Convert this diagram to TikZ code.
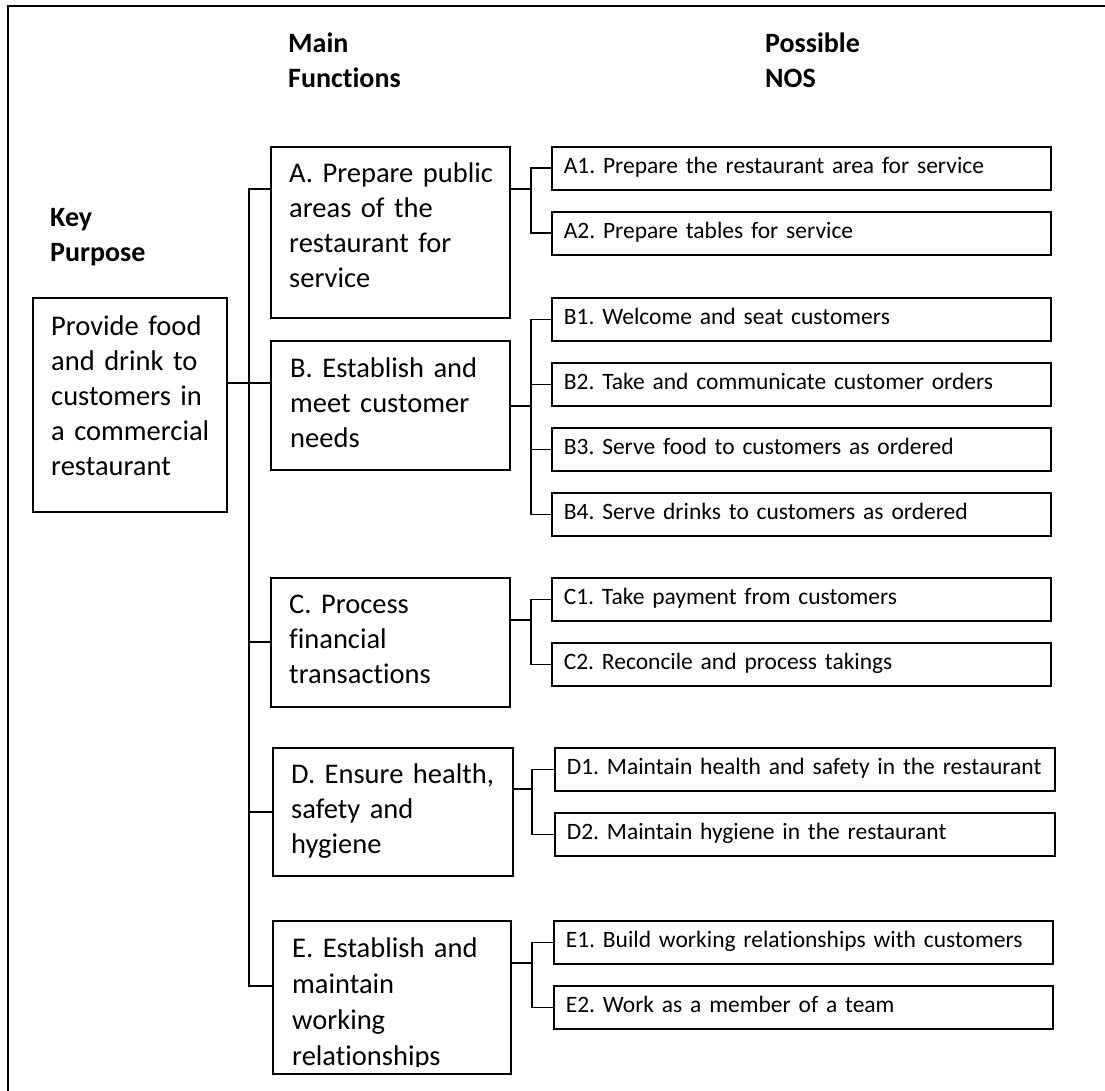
\documentclass[tikz,border=0pt]{standalone}
\usepackage{fontspec}
\setmainfont{Carlito}[Ligatures=NoCommon]
\frenchspacing
\begin{document}
\begin{tikzpicture}[x=1pt,y=-1pt,
  box/.style={draw=black, line width=1.6pt, rectangle, inner sep=0pt, anchor=north west},
  conn/.style={draw=black, line width=1.6pt},
  head/.style={font=\fontsize{28}{35}\selectfont\bfseries, anchor=base west, text width=160pt, align=left, inner sep=0pt},
  mtext/.style={font=\fontsize{28.5}{35}\selectfont, anchor=base west, text width=225pt, align=left, inner sep=0pt},
  nos/.style={draw=black, line width=1.6pt, rectangle, anchor=north west, minimum height=43pt,
    inner xsep=12pt, inner ysep=0pt, text height=17pt, text depth=7pt,
    font=\fontsize{23.5}{28}\selectfont, align=left}
]
\useasboundingbox (0,0) rectangle (1105,1091);

% outer frame (only top and left edges fall inside the page)
\draw[line width=1.6pt] (8,1110) -- (8,6) -- (1120,6);

% column headings
\node[head] (hKey)  at (50,227)  {Key\\Purpose};
\node[head] (hMain) at (288,53)  {Main\\Functions};
\node[head] (hNos)  at (765,53)  {Possible\\NOS};

% key purpose
\node[box, minimum width=194pt, minimum height=214pt] (key) at (32,297) {};
\node[mtext, text width=170pt] (keyt) at (51,335)
  {Provide food\\and drink to\\customers in\\a commercial\\restaurant};

% main functions
\node[box, minimum width=239pt, minimum height=171pt] (A) at (270,146) {};
\node[mtext] (At) at (289,183) {A. Prepare public\\areas of the\\restaurant for\\service};

\node[box, minimum width=239pt, minimum height=129pt] (B) at (270,340) {};
\node[mtext] (Bt) at (290,377) {B. Establish and\\meet customer\\needs};

\node[box, minimum width=239pt, minimum height=129pt] (C) at (270,577) {};
\node[mtext] (Ct) at (289,613) {C. Process\\financial\\transactions};

\node[box, minimum width=240pt, minimum height=128pt] (D) at (272,747) {};
\node[mtext] (Dt) at (291,783) {D. Ensure health,\\safety and\\hygiene};

\node[box, minimum width=238pt, minimum height=153pt] (E) at (272,920) {};
\begin{scope}
  \clip (273,921) rectangle (509,1066);
  \node[mtext, font=\fontsize{28.5}{36}\selectfont] (Et) at (292,957)
    {E. Establish and\\maintain\\working\\relationships};
\end{scope}

% possible NOS
\node[nos, text width=475pt] (A1) at (551,146) {\mbox{A1. Prepare the restaurant area for service}};
\node[nos, text width=475pt] (A2) at (551,211) {\mbox{A2. Prepare tables for service}};
\node[nos, text width=475pt] (B1) at (551,297) {\mbox{B1. Welcome and seat customers}};
\node[nos, text width=475pt] (B2) at (551,362) {\mbox{B2. Take and communicate customer orders}};
\node[nos, text width=475pt] (B3) at (551,427) {\mbox{B3. Serve food to customers as ordered}};
\node[nos, text width=475pt] (B4) at (551,492) {\mbox{B4. Serve drinks to customers as ordered}};
\node[nos, text width=475pt] (C1) at (551,577) {\mbox{C1. Take payment from customers}};
\node[nos, text width=475pt] (C2) at (551,642) {\mbox{C2. Reconcile and process takings}};
\node[nos, text width=476pt] (D1) at (554,747) {\mbox{D1. Maintain health and safety in the restaurant}};
\node[nos, text width=476pt] (D2) at (554,812) {\mbox{D2. Maintain hygiene in the restaurant}};
\node[nos, text width=475pt] (E1) at (553,920) {\mbox{E1. Build working relationships with customers}};
\node[nos, text width=475pt] (E2) at (553,985) {\mbox{E2. Work as a member of a team}};

% trunk from the key purpose to the main functions
\coordinate (jA) at (249,189);
\coordinate (jB) at (249,383);
\coordinate (jC) at (249,642);
\coordinate (jD) at (249,812);
\coordinate (jE) at (249,986);
\draw[conn] (A.west |- jA) -- (jA) -- (jE) -- (E.west |- jE);
\draw[conn] (key.east |- jB) -- (B.west |- jB);
\draw[conn] (jC) -- (C.west |- jC);
\draw[conn] (jD) -- (D.west |- jD);

% branches from each main function to its NOS
\coordinate (bA) at (531,189);
\draw[conn] (A.east |- bA) -- (bA);
\draw[conn] (A1.west) -- (A1.west -| bA) -- (A2.west -| bA) -- (A2.west);

\coordinate (bB) at (531,406);
\draw[conn] (B.east |- bB) -- (bB);
\draw[conn] (B1.west) -- (B1.west -| bB) -- (B4.west -| bB) -- (B4.west);
\draw[conn] (B2.west -| bB) -- (B2.west);
\draw[conn] (B3.west -| bB) -- (B3.west);

\coordinate (bC) at (531,620);
\draw[conn] (C.east |- bC) -- (bC);
\draw[conn] (C1.west) -- (C1.west -| bC) -- (C2.west -| bC) -- (C2.west);

\coordinate (bD) at (532,789);
\draw[conn] (D.east |- bD) -- (bD);
\draw[conn] (D1.west) -- (D1.west -| bD) -- (D2.west -| bD) -- (D2.west);

\coordinate (bE) at (532,963);
\draw[conn] (E.east |- bE) -- (bE);
\draw[conn] (E1.west) -- (E1.west -| bE) -- (E2.west -| bE) -- (E2.west);
\end{tikzpicture}
\end{document}
